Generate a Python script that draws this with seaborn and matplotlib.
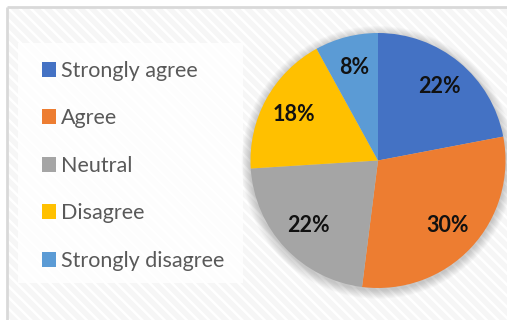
import matplotlib
matplotlib.use("Agg")
import matplotlib.pyplot as plt
from matplotlib.patches import Rectangle, Circle
import seaborn as sns

# Survey responses (percent)
categories = ["Strongly agree", "Agree", "Neutral", "Disagree", "Strongly disagree"]
shares = [22, 30, 22, 18, 8]
colors = ["#4472C4", "#ED7D31", "#A5A5A5", "#FFC000", "#5B9BD5"]

sns.set_theme(style="white")
plt.rcParams["font.family"] = ["Lato", "DejaVu Sans"]
plt.rcParams["hatch.linewidth"] = 1.8

W, H = 507, 320
fig = plt.figure(figsize=(W / 100, H / 100), dpi=100)
fig.patch.set_facecolor("white")

# background panel with diagonal texture and a light frame
bg = fig.add_axes([0, 0, 1, 1])
bg.set_xlim(0, W)
bg.set_ylim(H, 0)
bg.axis("off")
bg.add_patch(Rectangle((7, 7), W, H, facecolor="#f6f6f6", edgecolor="white",
                       hatch="\\\\\\", lw=0, zorder=0))
bg.plot([7, W], [7, 7], color="#d9d9d9", lw=2, solid_capstyle="butt", zorder=2)
bg.plot([7, 7], [7, H], color="#d9d9d9", lw=2, solid_capstyle="butt", zorder=2)
# legend panel
bg.add_patch(Rectangle((18, 43), 225, 240, facecolor="white", alpha=0.8,
                       lw=0, zorder=1))

# pie
cx, cy, r = 378, 160.5, 127.5
ax = fig.add_axes([(cx - r) / W, (H - cy - r) / H, 2 * r / W, 2 * r / H])
ax.axis("off")

wedges, texts, autotexts = ax.pie(
    shares, colors=colors, startangle=90, counterclock=False,
    autopct=lambda p: f"{p:.0f}%", pctdistance=0.75, radius=1,
    wedgeprops=dict(linewidth=0),
    textprops=dict(fontsize=15.5, fontweight="bold", color="#111111"),
)
for w in wedges:
    w.set_zorder(2)
for t in autotexts:
    t.set_zorder(3)

# soft shadow around the pie
for i in range(10):
    ax.add_patch(Circle((0, -0.015), 1.0 + 0.007 * (i + 1), facecolor="black",
                        alpha=0.018, lw=0, zorder=0, clip_on=False))

ax.set_xlim(-1, 1)
ax.set_ylim(-1, 1)
ax.set_aspect("equal")

leg = fig.legend(
    wedges, categories, loc="upper left",
    bbox_to_anchor=(31 / W, 1 - 50 / H), frameon=False,
    fontsize=15.5, handlelength=0.68, handleheight=0.68, handletextpad=0.22,
    labelspacing=1.28, borderpad=0, labelcolor="#595959",
)

fig.savefig("out.png", dpi=100, facecolor="white")
